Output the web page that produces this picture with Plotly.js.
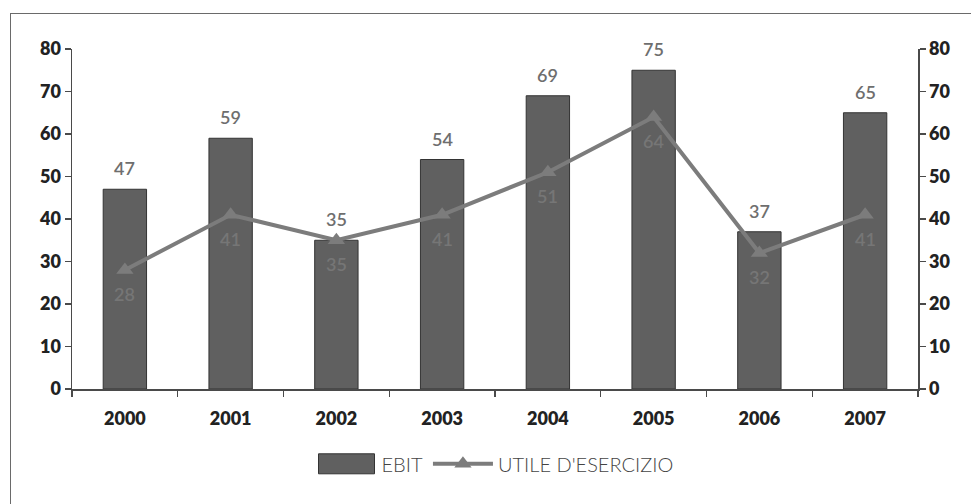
<!DOCTYPE html>
<html>
<head>
<meta charset="utf-8">
<script src="https://cdn.plot.ly/plotly-3.0.1.min.js"></script>
<style>
  html, body { margin: 0; padding: 0; background: #fff; overflow: hidden; }
  #wrap { position: relative; width: 971px; height: 504px; }
  #chart { position: absolute; left: 0; top: 0; width: 971px; height: 504px; }
  #frame { position: absolute; left: 10px; top: 13px; width: 1000px; height: 600px;
           border-left: 1.5px solid #6a6a6a; border-top: 1.5px solid #6a6a6a; pointer-events: none; }
</style>
</head>
<body>
<div id="wrap">
  <div id="chart"></div>
  <div id="frame"></div>
</div>
<script>
// Years on the category axis
const years = ['2000', '2001', '2002', '2003', '2004', '2005', '2006', '2007'];
// EBIT (bars, left axis)
const ebit = [47, 59, 35, 54, 69, 75, 37, 65];
// Utile d'esercizio (line, right axis)
const utile = [28, 41, 35, 41, 51, 64, 32, 41];
// Axis ticks
const yTicks = [0, 10, 20, 30, 40, 50, 60, 70, 80];
const yLabels = ['0', '10', '20', '30', '40', '50', '60', '70', '80'];
// Category boundaries for the cross ticks on the x axis
const xBounds = [0.5, 1.5, 2.5, 3.5, 4.5, 5.5, 6.5];

const baseFont = 'Lato, "Open Sans", sans-serif';
const axisColor = '#4a4a4a';
const barColor = '#606060';
const lineColor = '#7c7c7c';

const traces = [
  {
    type: 'bar',
    name: 'EBIT',
    x: years,
    y: ebit,
    width: 0.41,
    marker: { color: barColor, line: { color: '#333', width: 1 } },
    hoverinfo: 'x+y'
  },
  {
    type: 'scatter',
    mode: 'lines+markers',
    name: "UTILE D'ESERCIZIO",
    x: years,
    y: utile,
    yaxis: 'y2',
    line: { color: lineColor, width: 4 },
    marker: { symbol: 'triangle-up', size: 15, color: lineColor },
    cliponaxis: false
  }
];

// Value labels: above each bar, and below each point of the line
// (x given as the category index so the year strings are not read as numbers)
const barLabels = years.map((yr, i) => ({
  x: i, y: ebit[i], xref: 'x', yref: 'y',
  text: String(ebit[i]), showarrow: false,
  yanchor: 'middle', yshift: 21,
  font: { family: baseFont, size: 18, color: '#6e6e6e', weight: 600 }
}));
const lineLabels = years.map((yr, i) => ({
  x: i, y: utile[i], xref: 'x', yref: 'y2',
  text: String(utile[i]), showarrow: false,
  yanchor: 'middle', yshift: -24,
  font: { family: baseFont, size: 18, color: '#767676', weight: 600 }
}));

const tickFont = { family: baseFont, size: 18, color: '#222', weight: 800 };

const layout = {
  width: 971,
  height: 504,
  margin: { l: 72, r: 53, t: 49, b: 115 },
  paper_bgcolor: '#fff',
  plot_bgcolor: 'rgba(0,0,0,0)',
  showlegend: true,
  legend: {
    orientation: 'h',
    x: 0.5, xanchor: 'center',
    y: -0.22, yanchor: 'middle',
    bgcolor: 'rgba(0,0,0,0)',
    font: { family: baseFont, size: 20, color: '#444', weight: 300 },
    itemwidth: 60,
    traceorder: 'normal'
  },
  annotations: barLabels.concat(lineLabels),
  xaxis: {
    type: 'category',
    range: [-0.5, years.length - 0.5],
    tickson: 'boundaries',
    ticks: 'outside', ticklen: 6, tickwidth: 1.2, tickcolor: axisColor,
    showline: true, linecolor: axisColor, linewidth: 1.5,
    showgrid: false, zeroline: false,
    tickfont: tickFont,
    ticklabelstandoff: 13,
    fixedrange: true
  },
  xaxis2: {
    overlaying: 'x',
    anchor: 'y',
    range: [-0.5, years.length - 0.5],
    tickmode: 'array', tickvals: xBounds,
    ticks: 'inside', ticklen: 6, tickwidth: 1.2, tickcolor: axisColor,
    showticklabels: false, showgrid: false, zeroline: false, showline: false
  },
  yaxis: {
    range: [0, 80],
    tickmode: 'array', tickvals: yTicks, ticktext: yLabels,
    ticks: 'outside', ticklen: 6, tickwidth: 1.2, tickcolor: axisColor,
    showline: true, linecolor: axisColor, linewidth: 1.5,
    showgrid: false, zeroline: false,
    tickfont: tickFont,
    fixedrange: true
  },
  yaxis2: {
    overlaying: 'y',
    side: 'right',
    range: [0, 80],
    tickmode: 'array', tickvals: yTicks, ticktext: yLabels,
    ticks: 'outside', ticklen: 6, tickwidth: 1.2, tickcolor: axisColor,
    showline: true, linecolor: axisColor, linewidth: 1.5,
    showgrid: false, zeroline: false,
    tickfont: tickFont,
    fixedrange: true
  },
  yaxis3: {
    overlaying: 'y', anchor: 'x', side: 'left',
    range: [0, 80],
    tickmode: 'array', tickvals: yTicks,
    ticks: 'inside', ticklen: 6, tickwidth: 1.2, tickcolor: axisColor,
    showticklabels: false, showgrid: false, zeroline: false, showline: false
  },
  yaxis4: {
    overlaying: 'y', anchor: 'x', side: 'right',
    range: [0, 80],
    tickmode: 'array', tickvals: yTicks,
    ticks: 'inside', ticklen: 6, tickwidth: 1.2, tickcolor: axisColor,
    showticklabels: false, showgrid: false, zeroline: false, showline: false
  }
};

Plotly.newPlot('chart', traces, layout, { displayModeBar: false, staticPlot: true }).then(gd => {
  // Widen the bar swatch in the legend into a long rectangle
  const items = gd.querySelectorAll('.legend .traces');
  if (items.length) {
    const sw = items[0].querySelector('.legendpoints path');
    if (sw) sw.setAttribute('d', 'M-28,-10H28V10H-28Z');
  }
});
</script>
</body>
</html>
